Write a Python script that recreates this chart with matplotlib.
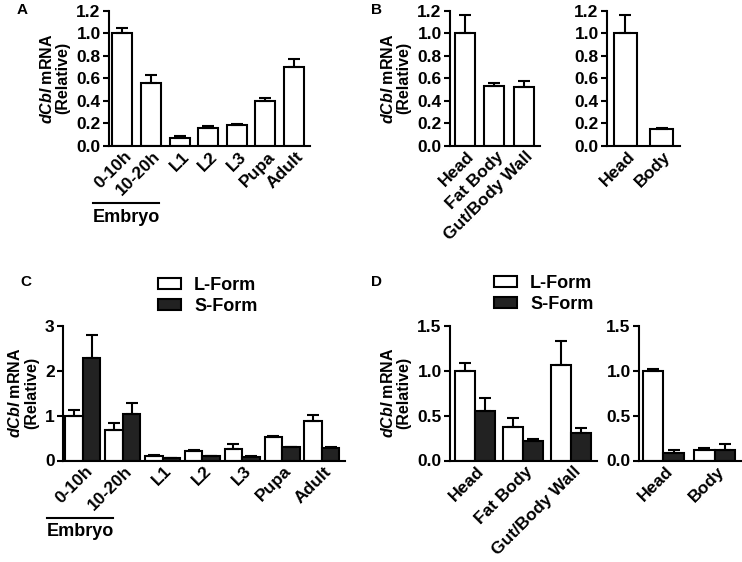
import matplotlib
matplotlib.use("Agg")
import matplotlib.pyplot as plt
import numpy as np
from matplotlib.patches import Patch
from matplotlib.lines import Line2D
from matplotlib.transforms import ScaledTranslation

plt.rcParams['font.family'] = ['Liberation Sans', 'DejaVu Sans']
plt.rcParams['font.weight'] = 'bold'
plt.rcParams['axes.labelweight'] = 'bold'
plt.rcParams['mathtext.fontset'] = 'custom'
plt.rcParams['mathtext.it'] = 'Liberation Sans:italic:bold'
plt.rcParams['mathtext.rm'] = 'Liberation Sans:bold'
plt.rcParams['mathtext.bf'] = 'Liberation Sans:bold'

# ---- data ----
stages = ['0-10h', '10-20h', 'L1', 'L2', 'L3', 'Pupa', 'Adult']
a_vals = [1.00, 0.56, 0.07, 0.16, 0.18, 0.40, 0.70]
a_errs = [0.05, 0.07, 0.015, 0.015, 0.012, 0.025, 0.07]

tissues3 = ['Head', 'Fat Body', 'Gut/Body Wall']
b1_vals = [1.00, 0.535, 0.525]
b1_errs = [0.16, 0.025, 0.05]

tissues2 = ['Head', 'Body']
b2_vals = [1.00, 0.15]
b2_errs = [0.165, 0.012]

c_L = [1.00, 0.68, 0.10, 0.21, 0.25, 0.52, 0.88]
c_L_err = [0.12, 0.15, 0.02, 0.02, 0.12, 0.03, 0.13]
c_S = [2.28, 1.04, 0.05, 0.10, 0.08, 0.29, 0.27]
c_S_err = [0.52, 0.24, 0.01, 0.01, 0.01, 0.015, 0.035]

d1_L = [1.00, 0.37, 1.066]
d1_L_err = [0.09, 0.10, 0.26]
d1_S = [0.546, 0.214, 0.31]
d1_S_err = [0.15, 0.03, 0.055]

d2_L = [1.00, 0.12]
d2_L_err = [0.02, 0.02]
d2_S = [0.08, 0.12]
d2_S_err = [0.035, 0.06]

legend_labels = ['L-Form', 'S-Form']
ylab = r'$\mathit{dCbl}$ mRNA' + '\n(Relative)'

W, H = 742, 562
fig = plt.figure(figsize=(W/100, H/100), dpi=100)

DARK = '#222222'
LW = 1.5
TICK_FS = 12.5
YLAB_FS = 11.5


def make_ax(x0, x1, ytop, ybot):
    ax = fig.add_axes([x0/W, 1-ybot/H, (x1-x0)/W, (ybot-ytop)/H])
    for s in ['top', 'right']:
        ax.spines[s].set_visible(False)
    for s in ['left', 'bottom']:
        ax.spines[s].set_linewidth(LW)
    ax.tick_params(axis='y', direction='out', length=4, width=LW,
                   labelsize=TICK_FS, pad=2)
    ax.tick_params(axis='x', length=0, labelsize=TICK_FS, pad=6)
    return ax


def set_xlabels(ax, labels, dx=7):
    ax.set_xticklabels(labels, rotation=45, ha='right', va='center',
                       rotation_mode='anchor')
    off = ScaledTranslation(dx/100, 0, fig.dpi_scale_trans)
    for t in ax.get_xticklabels():
        t.set_transform(t.get_transform() + off)


def single_bars(ax, labels, vals, errs, width):
    x = np.arange(len(labels))
    ax.bar(x, vals, width=width, color='white', edgecolor='black',
           linewidth=LW, zorder=2)
    ax.errorbar(x, vals, yerr=[np.zeros(len(vals)), errs], fmt='none',
                ecolor='black', elinewidth=LW, capsize=4.5, capthick=LW,
                zorder=3)
    ax.set_xticks(x)
    set_xlabels(ax, labels)
    return x


def paired_bars(ax, labels, L, Le, S, Se, width):
    x = np.arange(len(labels))
    ax.bar(x - width/2, L, width=width, color='white', edgecolor='black',
           linewidth=LW, zorder=2)
    ax.bar(x + width/2, S, width=width, color=DARK, edgecolor='black',
           linewidth=LW, zorder=2)
    ax.errorbar(x - width/2, L, yerr=[np.zeros(len(L)), Le], fmt='none',
                ecolor='black', elinewidth=LW, capsize=4.5, capthick=LW,
                zorder=3)
    ax.errorbar(x + width/2, S, yerr=[np.zeros(len(S)), Se], fmt='none',
                ecolor='black', elinewidth=LW, capsize=4.5, capthick=LW,
                zorder=3)
    ax.set_xticks(x)
    set_xlabels(ax, labels)
    return x


def ylabel(ax):
    ax.set_ylabel(ylab, fontsize=YLAB_FS, fontweight='bold', labelpad=4,
                  linespacing=1.1)


# ---- Panel A ----
axA = make_ax(109, 310, 11, 145.7)
single_bars(axA, stages, a_vals, a_errs, 0.7)
axA.set_xlim(-0.47, 6.56)
axA.set_ylim(0, 1.2)
axA.set_yticks(np.arange(0, 1.21, 0.2))
axA.set_yticklabels([f'{v:.1f}' for v in np.arange(0, 1.21, 0.2)])
ylabel(axA)

# ---- Panel B left ----
axB1 = make_ax(450, 540, 11, 145.7)
single_bars(axB1, tissues3, b1_vals, b1_errs, 0.68)
axB1.set_xlim(-0.5, 2.55)
axB1.set_ylim(0, 1.2)
axB1.set_yticks(np.arange(0, 1.21, 0.2))
axB1.set_yticklabels([f'{v:.1f}' for v in np.arange(0, 1.21, 0.2)])
ylabel(axB1)

# ---- Panel B right ----
axB2 = make_ax(607, 680, 11, 145.7)
single_bars(axB2, tissues2, b2_vals, b2_errs, 0.64)
axB2.set_xlim(-0.51, 1.51)
axB2.set_ylim(0, 1.2)
axB2.set_yticks(np.arange(0, 1.21, 0.2))
axB2.set_yticklabels([f'{v:.1f}' for v in np.arange(0, 1.21, 0.2)])

# ---- Panel C ----
axC = make_ax(63, 345, 325.7, 460.5)
paired_bars(axC, stages, c_L, c_L_err, c_S, c_S_err, 0.44)
axC.set_xlim(-0.5, 6.58)
axC.set_ylim(0, 3)
axC.set_yticks([0, 1, 2, 3])
ylabel(axC)

# ---- Panel D left ----
axD1 = make_ax(450, 597, 325.7, 460.5)
paired_bars(axD1, tissues3, d1_L, d1_L_err, d1_S, d1_S_err, 0.42)
axD1.set_xlim(-0.52, 2.54)
axD1.set_ylim(0, 1.5)
axD1.set_yticks([0, 0.5, 1.0, 1.5])
axD1.set_yticklabels(['0.0', '0.5', '1.0', '1.5'])
ylabel(axD1)

# ---- Panel D right ----
axD2 = make_ax(639, 741, 325.7, 460.5)
paired_bars(axD2, tissues2, d2_L, d2_L_err, d2_S, d2_S_err, 0.40)
axD2.set_xlim(-0.47, 1.51)
axD2.set_ylim(0, 1.5)
axD2.set_yticks([0, 0.5, 1.0, 1.5])
axD2.set_yticklabels(['0.0', '0.5', '1.0', '1.5'])

# ---- legends ----
handles = [Patch(facecolor='white', edgecolor='black', linewidth=LW),
           Patch(facecolor=DARK, edgecolor='black', linewidth=LW)]
for ax, lx, ly in [(axC, 158, 277), (axD1, 494, 275)]:
    ax.legend(handles, legend_labels, loc='upper left',
              bbox_to_anchor=(lx/W, 1-ly/H), bbox_transform=fig.transFigure,
              frameon=False, fontsize=13, handlelength=1.3, handleheight=0.6,
              handletextpad=0.7, labelspacing=0.2, borderaxespad=0,
              borderpad=0)

# ---- Embryo annotations ----
for (x0, x1, yl, yt) in [(93, 159, 203, 218), (47, 113, 518, 531)]:
    fig.add_artist(Line2D([x0/W, x1/W], [1-yl/H, 1-yl/H], color='black',
                          linewidth=1.5, transform=fig.transFigure))
    fig.text((x0+x1)/2/W, 1-yt/H, 'Embryo', ha='center', va='center',
             fontsize=13, fontweight='bold')

# ---- panel letters ----
for lab, x, y in [('A', 17, 3), ('B', 371, 3), ('C', 20, 275), ('D', 371, 275)]:
    fig.text(x/W, 1-y/H, lab, ha='left', va='top', fontsize=11,
             fontweight='bold')

fig.savefig('out.png', dpi=100)
